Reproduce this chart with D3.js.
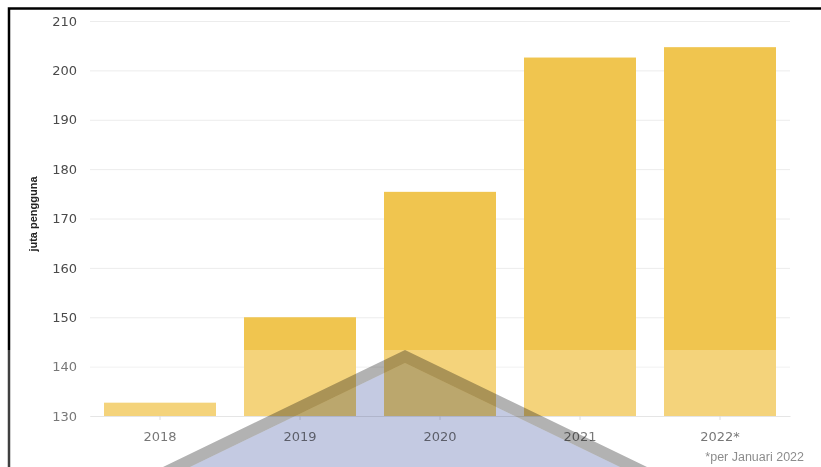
<!DOCTYPE html>
<html lang="id">
<head>
<meta charset="UTF-8">
<title>Pengguna internet</title>
<script src="https://d3js.org/d3.v7.min.js"></script>
<style>
  body { margin: 0; background: #fff; }
  svg { display: block; }
</style>
</head>
<body>
<svg width="821" height="467"></svg>
<script>
const years = ['2018', '2019', '2020', '2021', '2022*'];
const users = [132.7, 150.0, 175.4, 202.6, 204.7];   // juta pengguna
const yTicks = [130, 140, 150, 160, 170, 180, 190, 200, 210];

const svg = d3.select('svg');

const x = d3.scaleBand()
    .domain(years)
    .range([90, 790])
    .paddingInner(0.2)
    .paddingOuter(0.1);

const y = d3.scaleLinear()
    .domain([130, 210])
    .range([416, 21]);

// frame (top + left edge of the screenshot)
svg.append('path')
    .attr('d', 'M9,467V8.5H821')
    .attr('fill', 'none')
    .attr('stroke', '#000')
    .attr('stroke-width', 2.5);

// grid
const yAxis = d3.axisLeft(y).tickValues(yTicks).tickSize(-700).tickPadding(13);
const gy = svg.append('g').attr('transform', 'translate(90,0)').call(yAxis);
gy.select('.domain').remove();
gy.selectAll('.tick line').attr('stroke', '#ececec');
gy.selectAll('.tick text')
    .attr('fill', '#4a4a4a')
    .style('font', '13px "DejaVu Sans", sans-serif');

// bars
svg.append('g').selectAll('rect')
    .data(users)
    .join('rect')
    .attr('x', (d, i) => x(years[i]))
    .attr('width', x.bandwidth())
    .attr('y', d => y(d))
    .attr('height', d => y(130) - y(d))
    .attr('fill', '#f0c54f');

// x axis
const xAxis = d3.axisBottom(x).tickSize(4).tickPadding(12).tickSizeOuter(0);
const gx = svg.append('g').attr('transform', `translate(0,${y(130)})`).call(xAxis);
gx.select('.domain').attr('stroke', '#dcdcdc');
gx.selectAll('.tick line').attr('stroke', '#d0d0d0');
gx.selectAll('.tick text')
    .attr('fill', '#4a4a4a')
    .style('font', '13px "DejaVu Sans", sans-serif');

// y title
svg.append('text')
    .attr('transform', 'translate(37,214) rotate(-90)')
    .attr('text-anchor', 'middle')
    .style('font', 'bold 11px "Liberation Sans", Arial, sans-serif')
    .attr('fill', '#222')
    .text('juta pengguna');

// note
svg.append('text')
    .attr('x', 804)
    .attr('y', 461)
    .attr('text-anchor', 'end')
    .style('font', '12.5px "Liberation Sans", Arial, sans-serif')
    .attr('fill', '#666')
    .text('*per Januari 2022');

// watermark (lightened lower strip + roof shape)
const wm = svg.append('g');
wm.append('rect')
    .attr('x', 0).attr('y', 350).attr('width', 821).attr('height', 117)
    .attr('fill', '#fff').attr('opacity', 0.25);
wm.append('path')
    .attr('d', 'M405,350L163,467H647Z M405,363L190,467H620Z')
    .attr('fill-rule', 'evenodd')
    .attr('fill', '#b2b2b2')
    .style('mix-blend-mode', 'multiply');
wm.append('path')
    .attr('d', 'M405,363L190,467H620Z')
    .attr('fill', '#c4cae2')
    .style('mix-blend-mode', 'multiply');
</script>
</body>
</html>
